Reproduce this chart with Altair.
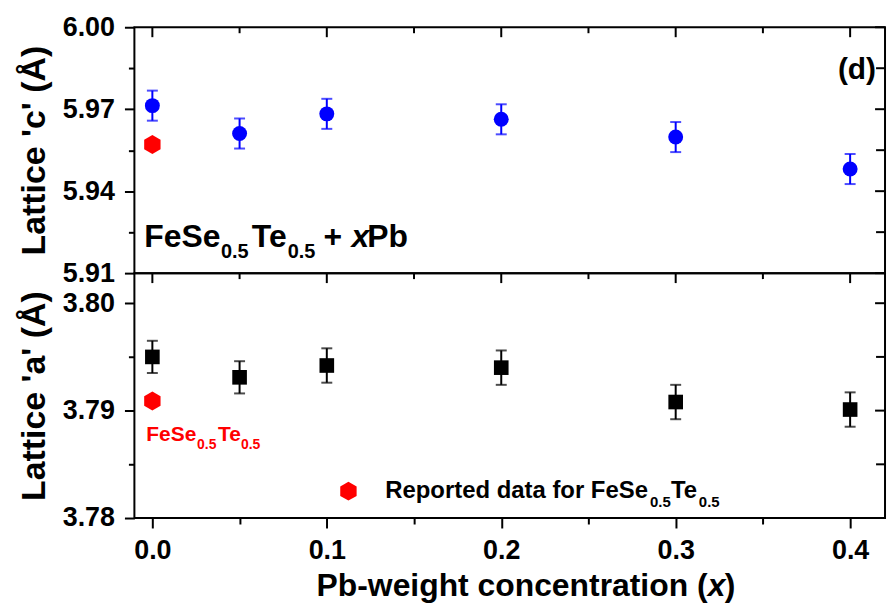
import altair as alt
import pandas as pd

# ---------------- data ----------------
x_vals = [0.0, 0.05, 0.1, 0.2, 0.3, 0.4]
c_vals = [5.9713, 5.9611, 5.9683, 5.9663, 5.9598, 5.9481]
c_err = [0.0055, 0.0055, 0.0055, 0.0055, 0.0055, 0.0055]
a_vals = [3.7950, 3.7931, 3.7942, 3.7940, 3.7908, 3.7901]
a_err = [0.0015, 0.0015, 0.0016, 0.0016, 0.0016, 0.0016]

ref_x = [0.0]
ref_c = [5.9571]
ref_a = [3.7909]

x_major = [0.0, 0.1, 0.2, 0.3, 0.4]
x_minor = [0.05, 0.15, 0.25, 0.35]
c_major = [5.91, 5.94, 5.97, 6.00]
c_minor = [5.925, 5.955, 5.985]
a_major = [3.78, 3.79, 3.80]
a_minor = [3.785, 3.795]

x_domain = [-0.0103, 0.42]
c_domain = [5.91, 6.00]
a_domain = [3.78, 3.8028]

FONT = "Liberation Sans"
W, H_TOP, H_BOT = 754, 247, 246

df = pd.DataFrame({
    "x": x_vals,
    "c": c_vals,
    "c_lo": [v - e for v, e in zip(c_vals, c_err)],
    "c_hi": [v + e for v, e in zip(c_vals, c_err)],
    "a": a_vals,
    "a_lo": [v - e for v, e in zip(a_vals, a_err)],
    "a_hi": [v + e for v, e in zip(a_vals, a_err)],
})
ref = pd.DataFrame({"x": ref_x, "c": ref_c, "a": ref_a})

xs = alt.Scale(domain=x_domain, nice=False, zero=False)
HEX = "M0,-1L0.866,-0.5L0.866,0.5L0,1L-0.866,0.5L-0.866,-0.5Z"


def ax(values, orient, size, labels=False, fmt=None, title=None,
       label_size=27):
    kw = dict(values=values, orient=orient, tickSize=size, tickWidth=2,
              tickColor="black", domain=False, grid=False, labels=labels,
              title=title)
    if labels:
        kw.update(format=fmt, labelFont=FONT, labelFontWeight="bold",
                  labelFontSize=label_size, labelColor="black",
                  labelPadding=10)
    if title:
        kw.update(titleFont=FONT, titleFontWeight="bold", titleFontSize=34,
                  titleColor="black", titlePadding=11)
    return alt.Axis(**kw)


def axis_layer(field, ys, xaxis, yaxis):
    return alt.Chart(df).mark_point(opacity=0).encode(
        x=alt.X("x:Q", scale=xs, axis=xaxis),
        y=alt.Y(f"{field}:Q", scale=ys, axis=yaxis),
    )


def xticks_in(values, length):
    d = pd.DataFrame({"t": values})
    return alt.Chart(d).mark_rule(color="black", strokeWidth=2).encode(
        x=alt.X("t:Q", scale=xs, axis=None),
        y=alt.value(0), y2=alt.value(length))


def yticks_in(values, ys, length):
    d = pd.DataFrame({"t": values})
    return alt.Chart(d).mark_rule(color="black", strokeWidth=2).encode(
        y=alt.Y("t:Q", scale=ys, axis=None),
        x=alt.value(W - length), x2=alt.value(W))


def text(label, px, py, size, color="black", style="normal", align="left"):
    return alt.Chart(alt.Data(values=[{}])).mark_text(
        text=label, font=FONT, fontWeight="bold", fontSize=size,
        fontStyle=style, color=color, align=align, baseline="alphabetic",
    ).encode(x=alt.value(px), y=alt.value(py))


def panel(field, domain, major, minor, color, shape, size, ref_field, title,
          with_x_labels):
    ys = alt.Scale(domain=domain, nice=False, zero=False)
    enc_x = alt.X("x:Q", scale=xs, axis=None)
    rules = alt.Chart(df).mark_rule(color=color, strokeWidth=2).encode(
        x=enc_x, y=alt.Y(f"{field}_lo:Q", scale=ys, axis=None),
        y2=f"{field}_hi:Q")
    cap_lo = alt.Chart(df).mark_tick(color=color, orient="horizontal",
                                     size=11, thickness=2).encode(
        x=enc_x, y=alt.Y(f"{field}_lo:Q", scale=ys, axis=None))
    cap_hi = alt.Chart(df).mark_tick(color=color, orient="horizontal",
                                     size=11, thickness=2).encode(
        x=enc_x, y=alt.Y(f"{field}_hi:Q", scale=ys, axis=None))
    pts = alt.Chart(df).mark_point(shape=shape, filled=True, size=size,
                                   color=color, opacity=1).encode(
        x=enc_x, y=alt.Y(f"{field}:Q", scale=ys, axis=None))
    refpt = alt.Chart(ref).mark_point(shape=HEX, filled=True, size=361,
                                      color="#ff0000", opacity=1).encode(
        x=enc_x, y=alt.Y(f"{ref_field}:Q", scale=ys, axis=None))

    if with_x_labels:
        xa_major = ax(x_major, "bottom", 10, labels=True, fmt=".1f")
        xa_minor = ax(x_minor, "bottom", 6)
    else:
        xa_major = None
        xa_minor = None
    layers = [
        axis_layer(field, ys, xa_major,
                   ax(major, "left", 10, labels=True, fmt=".2f", title=title)),
        axis_layer(field, ys, xa_minor, ax(minor, "left", 6)),
        xticks_in(x_major, 10),
        xticks_in(x_minor, 6),
        yticks_in(major, ys, 10),
        yticks_in(minor, ys, 9),
        rules, cap_lo, cap_hi, pts, refpt,
    ]
    return layers


top_layers = panel("c", c_domain, c_major, c_minor, "#0000ff", "circle", 225,
                   "c", "Lattice 'c' (Å)", False)
top_layers += [
    text("(d)", 745, 52, 30, align="right"),
    text("FeSe", 10, 221, 32),
    text("0.5", 87, 232, 20),
    text("Te", 118, 221, 32),
    text("0.5", 154, 232, 20),
    text("+", 190, 221, 32),
    text("x", 218, 221, 32, style="italic"),
    text("Pb", 234, 221, 32),
]
top = alt.layer(*top_layers).resolve_axis(x="independent", y="independent") \
    .properties(width=W, height=H_TOP)

bot_layers = panel("a", a_domain, a_major, a_minor, "#000000", "square", 216,
                   "a", "Lattice 'a' (Å)", True)
bot_layers += [
    text("FeSe", 12, 169, 21, color="#ff0000"),
    text("0.5", 63, 177, 14, color="#ff0000"),
    text("Te", 84, 169, 21, color="#ff0000"),
    text("0.5", 107, 177, 14, color="#ff0000"),
    alt.Chart(alt.Data(values=[{}])).mark_point(
        shape=HEX, filled=True, size=361, color="#ff0000", opacity=1
    ).encode(x=alt.value(215), y=alt.value(219)),
    text("Reported data for FeSe", 252, 226, 24),
    text("0.5", 518, 235, 15),
    text("Te", 539, 226, 24),
    text("0.5", 567, 235, 15),
    text("Pb-weight concentration (", 183, 324, 32),
    text("x", 576, 324, 32, style="italic"),
    text(")", 593, 324, 32),
]
bot = alt.layer(*bot_layers).resolve_axis(x="independent", y="independent") \
    .properties(width=W, height=H_BOT)

chart = alt.vconcat(top, bot, spacing=0, bounds="flush").properties(
    padding={"left": 16, "top": 11, "right": 2, "bottom": 0},
    background="white",
).configure_view(stroke="black", strokeWidth=2)

chart.save("out.html", embed_options={"renderer": "svg", "actions": False})
